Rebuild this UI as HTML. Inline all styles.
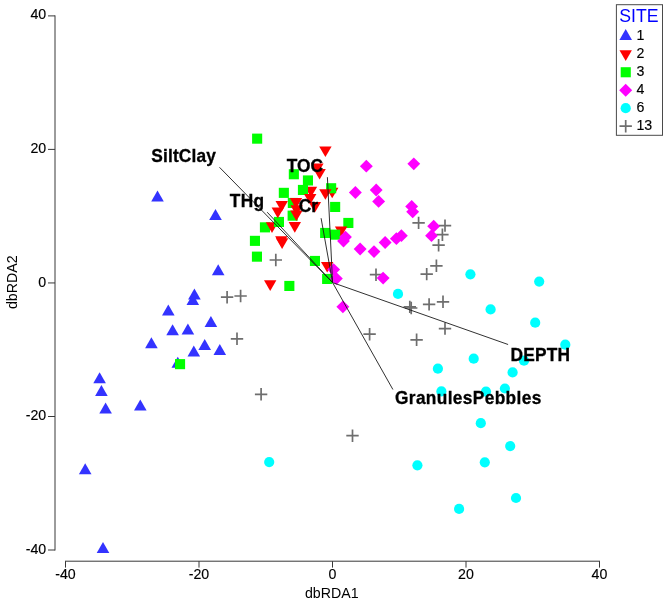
<!DOCTYPE html>
<html lang="en"><head><meta charset="utf-8"><title>dbRDA ordination</title>
<style>
html,body{margin:0;padding:0;background:#fff;}
body{width:668px;height:605px;overflow:hidden;}
svg{display:block;font-family:"Liberation Sans",Arial,sans-serif;}
.tick{font-size:14.2px;fill:#000;stroke:#000;stroke-width:0.15px;}
.axl{font-size:14.2px;fill:#000;}
.vec{font-size:17.3px;font-weight:bold;fill:#000;stroke:#000;stroke-width:0.3px;}
.leg{font-size:13.6px;fill:#111;}
</style></head><body>
<svg width="668" height="605" viewBox="0 0 668 605">
<rect width="668" height="605" fill="#ffffff"/>

<g stroke="#383838" stroke-width="1" fill="none">
<path d="M55 15.4V550.5M48 15.9H55M48 149.4H55M48 282.95H55M48 416.5H55M48 550.0H55M65 561.2H600M65.5 561.2V567.6M199 561.2V567.6M332.5 561.2V567.6M466 561.2V567.6M599.5 561.2V567.6"/></g>
<text class="tick" transform="translate(46.20 19.45) scale(1 1.04)" text-anchor="end">40</text>
<text class="tick" transform="translate(46.20 152.95) scale(1 1.04)" text-anchor="end">20</text>
<text class="tick" transform="translate(46.20 286.50) scale(1 1.04)" text-anchor="end">0</text>
<text class="tick" transform="translate(46.20 420.05) scale(1 1.04)" text-anchor="end">-20</text>
<text class="tick" transform="translate(46.20 553.55) scale(1 1.04)" text-anchor="end">-40</text>
<text class="tick" transform="translate(65.50 579.35) scale(1 1.04)" text-anchor="middle">-40</text>
<text class="tick" transform="translate(199.00 579.35) scale(1 1.04)" text-anchor="middle">-20</text>
<text class="tick" transform="translate(332.50 579.35) scale(1 1.04)" text-anchor="middle">0</text>
<text class="tick" transform="translate(466.00 579.35) scale(1 1.04)" text-anchor="middle">20</text>
<text class="tick" transform="translate(599.50 579.35) scale(1 1.04)" text-anchor="middle">40</text>
<text class="axl" transform="translate(331.80 598.20) scale(1 1.06)" text-anchor="middle">dbRDA1</text>
<text class="axl" transform="translate(17.00 282.30) rotate(-90) scale(1 1.06)" text-anchor="middle">dbRDA2</text>
<g>
<polygon points="157.5,190.5 163.8,201.5 151.2,201.5" fill="#3333ff"/>
<polygon points="215.5,209.0 221.8,220.0 209.2,220.0" fill="#3333ff"/>
<polygon points="218.2,264.3 224.5,275.3 211.9,275.3" fill="#3333ff"/>
<polygon points="194.4,288.5 200.7,299.5 188.1,299.5" fill="#3333ff"/>
<polygon points="192.8,294.1 199.1,305.1 186.5,305.1" fill="#3333ff"/>
<polygon points="168.3,304.4 174.6,315.4 162.0,315.4" fill="#3333ff"/>
<polygon points="210.9,315.9 217.2,326.9 204.6,326.9" fill="#3333ff"/>
<polygon points="172.6,324.2 178.9,335.2 166.3,335.2" fill="#3333ff"/>
<polygon points="187.9,323.4 194.2,334.4 181.6,334.4" fill="#3333ff"/>
<polygon points="151.4,337.3 157.7,348.3 145.1,348.3" fill="#3333ff"/>
<polygon points="204.7,338.9 211.0,349.9 198.4,349.9" fill="#3333ff"/>
<polygon points="193.8,345.6 200.1,356.6 187.5,356.6" fill="#3333ff"/>
<polygon points="219.8,344.0 226.1,355.0 213.5,355.0" fill="#3333ff"/>
<polygon points="177.8,356.7 184.1,367.7 171.5,367.7" fill="#3333ff"/>
<polygon points="99.6,372.3 105.9,383.3 93.3,383.3" fill="#3333ff"/>
<polygon points="101.4,384.9 107.7,395.9 95.1,395.9" fill="#3333ff"/>
<polygon points="105.6,402.4 111.9,413.4 99.3,413.4" fill="#3333ff"/>
<polygon points="140.3,399.6 146.6,410.6 134.0,410.6" fill="#3333ff"/>
<polygon points="85.2,463.3 91.5,474.3 78.9,474.3" fill="#3333ff"/>
<polygon points="103.0,542.0 109.3,553.0 96.7,553.0" fill="#3333ff"/>
<circle cx="398.0" cy="293.9" r="5.1" fill="#00ffff"/>
<circle cx="470.4" cy="274.3" r="5.1" fill="#00ffff"/>
<circle cx="539.2" cy="281.6" r="5.1" fill="#00ffff"/>
<circle cx="490.6" cy="309.4" r="5.1" fill="#00ffff"/>
<circle cx="535.2" cy="322.7" r="5.1" fill="#00ffff"/>
<circle cx="565.3" cy="344.7" r="5.1" fill="#00ffff"/>
<circle cx="473.7" cy="358.7" r="5.1" fill="#00ffff"/>
<circle cx="437.9" cy="368.7" r="5.1" fill="#00ffff"/>
<circle cx="441.4" cy="391.4" r="5.1" fill="#00ffff"/>
<circle cx="486.0" cy="391.6" r="5.1" fill="#00ffff"/>
<circle cx="504.9" cy="388.5" r="5.1" fill="#00ffff"/>
<circle cx="512.6" cy="372.4" r="5.1" fill="#00ffff"/>
<circle cx="524.0" cy="360.7" r="5.1" fill="#00ffff"/>
<circle cx="480.8" cy="423.2" r="5.1" fill="#00ffff"/>
<circle cx="510.2" cy="446.1" r="5.1" fill="#00ffff"/>
<circle cx="417.4" cy="465.3" r="5.1" fill="#00ffff"/>
<circle cx="484.8" cy="462.3" r="5.1" fill="#00ffff"/>
<circle cx="516.0" cy="498.0" r="5.1" fill="#00ffff"/>
<circle cx="459.1" cy="508.9" r="5.1" fill="#00ffff"/>
<circle cx="269.2" cy="462.1" r="5.1" fill="#00ffff"/>
<path d="M269.6 260.0H282.0M275.8 253.8V266.2" stroke="#6e6e6e" stroke-width="1.7" fill="none"/>
<path d="M412.4 222.9H424.8M418.6 216.7V229.1" stroke="#6e6e6e" stroke-width="1.7" fill="none"/>
<path d="M438.8 225.6H451.2M445.0 219.4V231.8" stroke="#6e6e6e" stroke-width="1.7" fill="none"/>
<path d="M436.2 234.7H448.6M442.4 228.5V240.9" stroke="#6e6e6e" stroke-width="1.7" fill="none"/>
<path d="M432.4 245.2H444.8M438.6 239.0V251.4" stroke="#6e6e6e" stroke-width="1.7" fill="none"/>
<path d="M430.2 265.8H442.6M436.4 259.6V272.0" stroke="#6e6e6e" stroke-width="1.7" fill="none"/>
<path d="M420.5 274.1H432.9M426.7 267.9V280.3" stroke="#6e6e6e" stroke-width="1.7" fill="none"/>
<path d="M369.8 274.7H382.2M376.0 268.5V280.9" stroke="#6e6e6e" stroke-width="1.7" fill="none"/>
<path d="M403.6 306.9H416.0M409.8 300.7V313.1" stroke="#6e6e6e" stroke-width="1.7" fill="none"/>
<path d="M405.0 308.0H417.4M411.2 301.8V314.2" stroke="#6e6e6e" stroke-width="1.7" fill="none"/>
<path d="M422.9 304.4H435.3M429.1 298.2V310.6" stroke="#6e6e6e" stroke-width="1.7" fill="none"/>
<path d="M436.8 301.8H449.2M443.0 295.6V308.0" stroke="#6e6e6e" stroke-width="1.7" fill="none"/>
<path d="M438.8 328.6H451.2M445.0 322.4V334.8" stroke="#6e6e6e" stroke-width="1.7" fill="none"/>
<path d="M410.4 339.8H422.8M416.6 333.6V346.0" stroke="#6e6e6e" stroke-width="1.7" fill="none"/>
<path d="M363.4 334.2H375.8M369.6 328.0V340.4" stroke="#6e6e6e" stroke-width="1.7" fill="none"/>
<path d="M254.9 394.3H267.3M261.1 388.1V400.5" stroke="#6e6e6e" stroke-width="1.7" fill="none"/>
<path d="M346.3 435.7H358.7M352.5 429.5V441.9" stroke="#6e6e6e" stroke-width="1.7" fill="none"/>
<path d="M220.9 297.2H233.3M227.1 291.0V303.4" stroke="#6e6e6e" stroke-width="1.7" fill="none"/>
<path d="M234.4 296.0H246.8M240.6 289.8V302.2" stroke="#6e6e6e" stroke-width="1.7" fill="none"/>
<path d="M230.8 338.8H243.2M237.0 332.6V345.0" stroke="#6e6e6e" stroke-width="1.7" fill="none"/>
</g>
<g>
<rect x="252.1" y="133.6" width="10.1" height="10.1" fill="#00ff00"/>
<rect x="288.8" y="169.2" width="10.1" height="10.1" fill="#00ff00"/>
<rect x="302.9" y="175.4" width="10.1" height="10.1" fill="#00ff00"/>
<rect x="278.8" y="187.8" width="10.1" height="10.1" fill="#00ff00"/>
<rect x="330.1" y="201.9" width="10.1" height="10.1" fill="#00ff00"/>
<rect x="287.8" y="197.9" width="10.1" height="10.1" fill="#00ff00"/>
<rect x="287.6" y="210.6" width="10.1" height="10.1" fill="#00ff00"/>
<rect x="259.9" y="222.3" width="10.1" height="10.1" fill="#00ff00"/>
<rect x="249.9" y="235.8" width="10.1" height="10.1" fill="#00ff00"/>
<rect x="251.9" y="251.6" width="10.1" height="10.1" fill="#00ff00"/>
<rect x="284.3" y="280.9" width="10.1" height="10.1" fill="#00ff00"/>
<rect x="320.1" y="227.9" width="10.1" height="10.1" fill="#00ff00"/>
<rect x="343.3" y="217.9" width="10.1" height="10.1" fill="#00ff00"/>
<rect x="309.9" y="255.9" width="10.1" height="10.1" fill="#00ff00"/>
<rect x="322.1" y="273.9" width="10.1" height="10.1" fill="#00ff00"/>
<rect x="175.0" y="359.1" width="10.1" height="10.1" fill="#00ff00"/>
<polygon points="304.8,186.7 317.2,186.7 311.0,197.3" fill="#ff0000"/>
<polygon points="326.0,187.7 338.4,187.7 332.2,198.3" fill="#ff0000"/>
<polygon points="265.8,222.3 278.2,222.3 272.0,232.9" fill="#ff0000"/>
<rect x="297.9" y="184.9" width="10.1" height="10.1" fill="#00ff00"/>
<rect x="326.1" y="183.2" width="10.1" height="10.1" fill="#00ff00"/>
<rect x="273.9" y="216.9" width="10.1" height="10.1" fill="#00ff00"/>
<polygon points="319.2,146.4 331.6,146.4 325.4,157.0" fill="#ff0000"/>
<polygon points="311.2,163.6 323.6,163.6 317.4,174.2" fill="#ff0000"/>
<polygon points="313.4,169.0 325.8,169.0 319.6,179.6" fill="#ff0000"/>
<polygon points="304.0,193.9 316.4,193.9 310.2,204.5" fill="#ff0000"/>
<polygon points="319.2,189.2 331.6,189.2 325.4,199.8" fill="#ff0000"/>
<polygon points="308.7,202.0 321.1,202.0 314.9,212.6" fill="#ff0000"/>
<polygon points="289.8,198.1 302.2,198.1 296.0,208.7" fill="#ff0000"/>
<polygon points="290.4,205.3 302.8,205.3 296.6,215.9" fill="#ff0000"/>
<polygon points="290.2,210.5 302.6,210.5 296.4,221.1" fill="#ff0000"/>
<polygon points="288.6,222.1 301.0,222.1 294.8,232.7" fill="#ff0000"/>
<polygon points="275.5,201.1 287.9,201.1 281.7,211.7" fill="#ff0000"/>
<polygon points="271.6,207.6 284.0,207.6 277.8,218.2" fill="#ff0000"/>
<polygon points="275.1,236.2 287.5,236.2 281.3,246.8" fill="#ff0000"/>
<polygon points="275.9,238.3 288.3,238.3 282.1,248.9" fill="#ff0000"/>
<polygon points="264.0,280.3 276.4,280.3 270.2,290.9" fill="#ff0000"/>
<polygon points="321.0,261.9 333.4,261.9 327.2,272.5" fill="#ff0000"/>
<polygon points="334.9,226.6 347.3,226.6 341.1,237.2" fill="#ff0000"/>
<rect x="330.1" y="229.6" width="10.1" height="10.1" fill="#00ff00"/>
<polygon points="366.3,159.8 372.8,166.2 366.3,172.6 359.9,166.2" fill="#ff00ff"/>
<polygon points="413.8,157.4 420.2,163.8 413.8,170.2 407.4,163.8" fill="#ff00ff"/>
<polygon points="355.4,186.1 361.8,192.5 355.4,198.9 348.9,192.5" fill="#ff00ff"/>
<polygon points="376.2,183.6 382.6,190.0 376.2,196.4 369.8,190.0" fill="#ff00ff"/>
<polygon points="378.6,195.0 385.1,201.4 378.6,207.8 372.2,201.4" fill="#ff00ff"/>
<polygon points="411.7,200.0 418.1,206.4 411.7,212.8 405.2,206.4" fill="#ff00ff"/>
<polygon points="412.7,205.4 419.1,211.8 412.7,218.2 406.2,211.8" fill="#ff00ff"/>
<polygon points="433.7,219.8 440.1,226.2 433.7,232.6 427.2,226.2" fill="#ff00ff"/>
<polygon points="431.5,229.2 437.9,235.7 431.5,242.1 425.1,235.7" fill="#ff00ff"/>
<polygon points="401.4,229.2 407.8,235.7 401.4,242.1 394.9,235.7" fill="#ff00ff"/>
<polygon points="396.4,232.2 402.8,238.7 396.4,245.1 389.9,238.7" fill="#ff00ff"/>
<polygon points="385.1,236.1 391.6,242.5 385.1,248.9 378.7,242.5" fill="#ff00ff"/>
<polygon points="374.0,245.2 380.4,251.6 374.0,258.1 367.6,251.6" fill="#ff00ff"/>
<polygon points="360.1,242.6 366.6,249.0 360.1,255.4 353.7,249.0" fill="#ff00ff"/>
<polygon points="345.5,230.7 351.9,237.1 345.5,243.5 339.1,237.1" fill="#ff00ff"/>
<polygon points="343.5,234.7 349.9,241.1 343.5,247.5 337.1,241.1" fill="#ff00ff"/>
<polygon points="383.1,271.7 389.6,278.1 383.1,284.6 376.7,278.1" fill="#ff00ff"/>
<polygon points="342.9,300.4 349.3,306.8 342.9,313.2 336.4,306.8" fill="#ff00ff"/>
<polygon points="333.6,263.2 340.1,269.6 333.6,276.1 327.2,269.6" fill="#ff00ff"/>
<polygon points="336.4,272.2 342.8,278.6 336.4,285.1 329.9,278.6" fill="#ff00ff"/>
</g>
<path d="M332.6 282.6L219.5 167.3M332.6 282.6L267.2 212.2M332.6 282.6L327.4 177.2M332.6 282.6L321.1 218.2M332.6 282.6L508.1 344.5M332.6 282.6L392.9 389.5" stroke="#1a1a1a" stroke-width="0.9" fill="none"/>
<text class="vec" transform="translate(151.30 162.00) scale(1 1.03)" letter-spacing="0.15">SiltClay</text>
<text class="vec" transform="translate(229.70 206.60) scale(1 1.03)" letter-spacing="0.4">THg</text>
<text class="vec" transform="translate(286.80 171.50) scale(1 1.03)">TOC</text>
<text class="vec" transform="translate(298.80 212.30) scale(1 1.03)">Cr</text>
<text class="vec" transform="translate(510.40 360.70) scale(1 1.03)" letter-spacing="0.25">DEPTH</text>
<text class="vec" transform="translate(395.00 404.30) scale(1 1.03)" letter-spacing="0.36">GranulesPebbles</text>
<rect x="616.4" y="4.7" width="46.1" height="130.6" fill="#fff" stroke="#4a4a4a" stroke-width="1"/>
<text x="619.3" y="21.6" font-size="17.7" fill="#0000ff">SITE</text>
<polygon points="625.7,28.9 632.0,39.9 619.4,39.9" fill="#3333ff"/>
<polygon points="619.5,50.3 631.9,50.3 625.7,60.9" fill="#ff0000"/>
<rect x="620.7" y="67.2" width="10.1" height="10.1" fill="#00ff00"/>
<polygon points="625.7,83.8 632.2,90.2 625.7,96.7 619.2,90.2" fill="#ff00ff"/>
<circle cx="625.7" cy="108.2" r="5.1" fill="#00ffff"/>
<path d="M619.5 126.2H631.9M625.7 120.0V132.4" stroke="#6e6e6e" stroke-width="1.7" fill="none"/>
<text class="tick" transform="translate(636.40 39.85) scale(1 1.04)">1</text>
<text class="tick" transform="translate(636.40 57.85) scale(1 1.04)">2</text>
<text class="tick" transform="translate(636.40 75.85) scale(1 1.04)">3</text>
<text class="tick" transform="translate(636.40 93.85) scale(1 1.04)">4</text>
<text class="tick" transform="translate(636.40 111.85) scale(1 1.04)">6</text>
<text class="tick" transform="translate(636.40 129.85) scale(1 1.04)">13</text>
</svg></body></html>
